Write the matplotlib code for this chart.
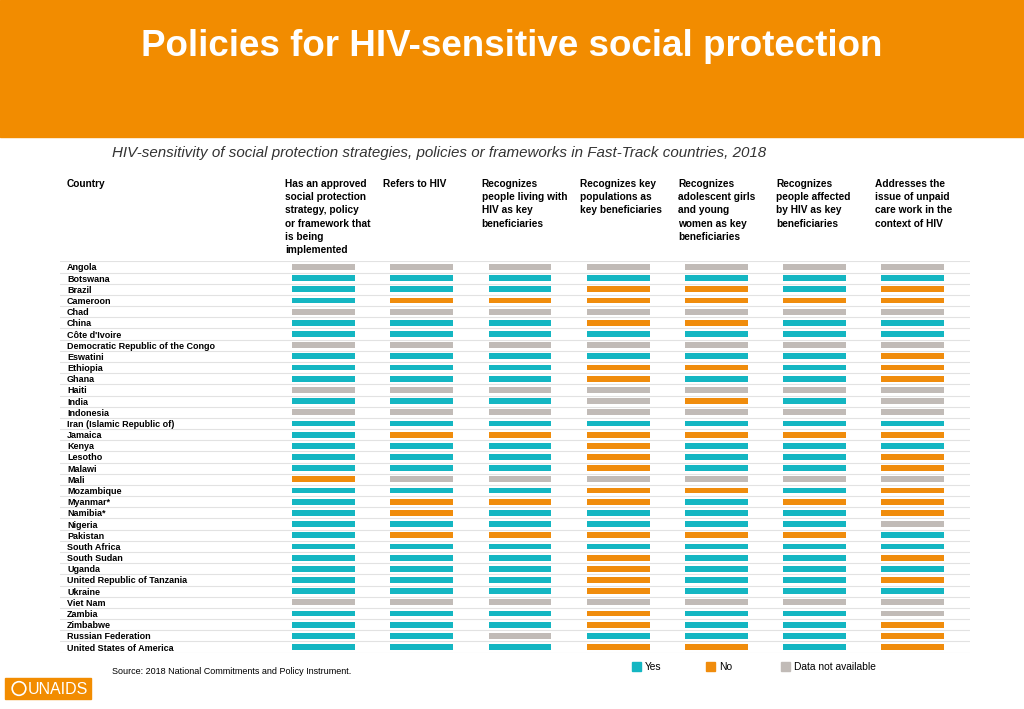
import matplotlib.pyplot as plt
from matplotlib.patches import Rectangle, Circle
from matplotlib.transforms import blended_transform_factory

# data
countries = [
    "Angola", "Botswana", "Brazil", "Cameroon", "Chad", "China", "Côte d'Ivoire",
    "Democratic Republic of the Congo", "Eswatini", "Ethiopia", "Ghana", "Haiti",
    "India", "Indonesia", "Iran (Islamic Republic of)", "Jamaica", "Kenya",
    "Lesotho", "Malawi", "Mali", "Mozambique", "Myanmar*", "Namibia*", "Nigeria",
    "Pakistan", "South Africa", "South Sudan", "Uganda",
    "United Republic of Tanzania", "Ukraine", "Viet Nam", "Zambia", "Zimbabwe",
    "Russian Federation", "United States of America",
]

columns = [
    "Has an approved\nsocial protection\nstrategy, policy\nor framework that\nis being\nimplemented",
    "Refers to HIV",
    "Recognizes\npeople living with\nHIV as key\nbeneficiaries",
    "Recognizes key\npopulations as\nkey beneficiaries",
    "Recognizes\nadolescent girls\nand young\nwomen as key\nbeneficiaries",
    "Recognizes\npeople affected\nby HIV as key\nbeneficiaries",
    "Addresses the\nissue of unpaid\ncare work in the\ncontext of HIV",
]

# Y = yes, N = no, G = data not available (one letter per column)
status = [
    "GGGGGGG", "YYYYYYY", "YYYNNYN", "YNNNNNN", "GGGGGGG", "YYYNNYY", "YYYYYYY",
    "GGGGGGG", "YYYYYYN", "YYYNNYN", "YYYNYYN", "GGGGGGG",
    "YYYGNYG", "GGGGGGG", "YYYYYYY", "YNNNNNN", "YYYNYYY",
    "YYYNYYN", "YYYNYYN", "NGGGGGG", "YYYNNYN", "YNNNYNN", "YNYYYYN", "YYYYYYG",
    "YNNNNNY", "YYYYYYY", "YYYNYYN", "YYYNYYY",
    "YYYNYYN", "YYYNYYY", "GGGGGGG", "YYYNYYG", "YYYNYYN",
    "YYGYYYN", "YYYNNYN",
]

legend_keys = ["Y", "N", "G"]
legend_labels = ["Yes", "No", "Data not available"]

colors = {"Y": "#14b6c2", "N": "#f08c0c", "G": "#c1bbb7"}
orange = "#f28c00"

W, H = 1024, 709
fig = plt.figure(figsize=(W / 100, H / 100), dpi=100)
plt.rcParams['font.family'] = ['Liberation Sans', 'DejaVu Sans']


def fx(x):
    return x / W


def fy(y):
    return 1 - y / H


# header band
fig.patches.append(Rectangle((0, fy(137)), 1, 137 / H, transform=fig.transFigure,
                             color=orange, zorder=0))
fig.text(0.5, fy(47), "Policies for HIV-sensitive social protection", color="white",
         fontsize=26.5, fontweight="bold", ha="center", va="center")
fig.text(fx(112), fy(153),
         "HIV-sensitivity of social protection strategies, policies or frameworks in Fast-Track countries, 2018",
         style="italic", fontsize=10.88, color="#333333", ha="left", va="center")

# grid
top, bottom = 261.4, 652.6
ax = fig.add_axes([fx(60), fy(bottom), fx(910), (bottom - top) / H])
ax.set_xlim(-2.682, 6.581)
ax.set_ylim(len(countries) - 0.5, -0.5)
ax.axis("off")

bar_w = 0.64
rows = range(len(countries))
for j in range(len(columns)):
    ax.barh(rows, bar_w, left=j - bar_w / 2, height=0.52,
            color=[colors[s[j]] for s in status], zorder=2)

for i in range(len(countries) + 1):
    ax.axhline(i - 0.5, color="#e2e2e2", lw=0.8, zorder=1)

for i, name in enumerate(countries):
    ax.text(-2.61, i, name, fontsize=6.5, fontweight="bold", va="center_baseline", ha="left")

hdr = blended_transform_factory(ax.transData, fig.transFigure)
for j, label in enumerate(columns):
    ax.text(j - bar_w / 2 - 0.07, fy(179), label, transform=hdr, fontsize=7.3,
            fontweight="bold", va="top", ha="left", linespacing=1.4)
ax.text(-2.61, fy(179), "Country", transform=hdr, fontsize=7.3,
        fontweight="bold", va="top", ha="left")

# legend
for x0, key, lab in zip([632, 706, 781], legend_keys, legend_labels):
    fig.patches.append(Rectangle((fx(x0), fy(671)), fx(9), 9 / H, transform=fig.transFigure,
                                 color=colors[key]))
    fig.text(fx(x0 + 13), fy(666.5), lab, fontsize=7.4, va="center", ha="left")

fig.text(fx(112), fy(671.5), "Source: 2018 National Commitments and Policy Instrument.",
         fontsize=6.5, va="center", ha="left")

# logo
fig.patches.append(Rectangle((fx(5), fy(699)), fx(86), 21 / H, transform=fig.transFigure,
                             color=orange))
fig.patches.append(Circle((0.19, (H - 688.5) / 100), 0.068, transform=fig.dpi_scale_trans,
                          fill=False, ec="white", lw=1.2))
fig.text(fx(28), fy(689), "UNAIDS", color="white", fontsize=11.5, va="center", ha="left")

fig.savefig("out.png", dpi=100)
